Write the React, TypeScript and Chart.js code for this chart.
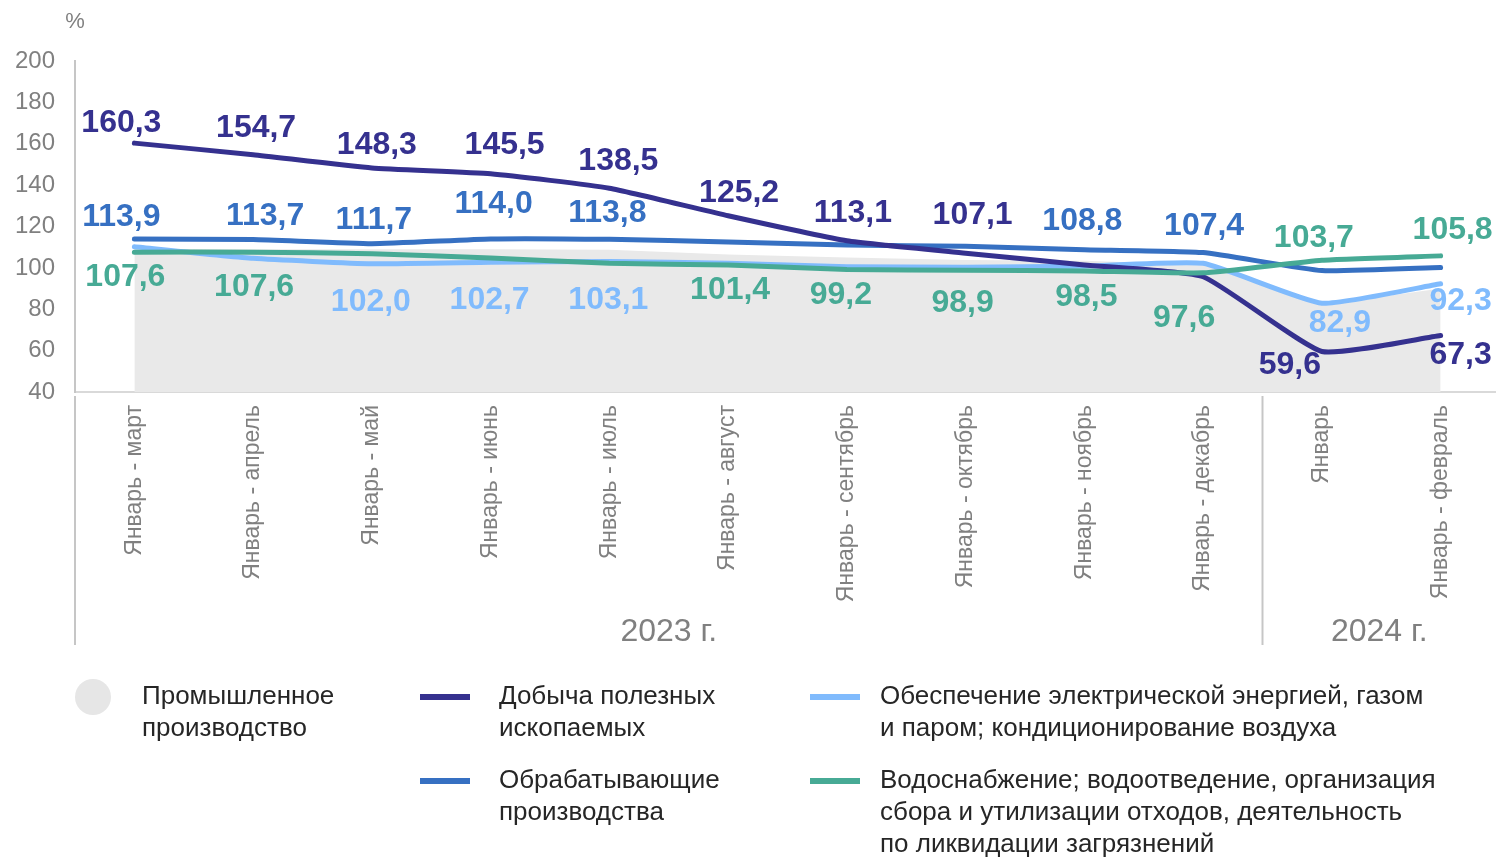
import React, { useEffect, useRef } from "react";
import { Chart, registerables } from "chart.js";

Chart.register(...registerables);

const CATEGORIES = [
  "Январь - март",
  "Январь - апрель",
  "Январь - май",
  "Январь - июнь",
  "Январь - июль",
  "Январь - август",
  "Январь - сентябрь",
  "Январь - октябрь",
  "Январь - ноябрь",
  "Январь - декабрь",
  "Январь",
  "Январь - февраль",
];

const YEAR_GROUPS = [
  { label: "2023 г.", from: 0, to: 9 },
  { label: "2024 г.", from: 10, to: 11 },
];

const INDUSTRY = [109.0, 109.0, 109.0, 109.0, 108.8, 106.5, 105.0, 103.8, 103.5, 101.5, 82.0, 90.0];
const MINING = [160.3, 154.7, 148.3, 145.5, 138.5, 125.2, 113.1, 107.1, 101.4, 95.7, 59.6, 67.3];
const MANUFACTURING = [113.9, 113.7, 111.7, 114.0, 113.8, 112.5, 111.0, 110.4, 108.8, 107.4, 98.7, 100.2];
const ENERGY = [110.2, 104.6, 102.0, 102.7, 103.1, 102.2, 100.6, 100.3, 100.8, 102.2, 82.9, 92.3];
const WATER = [107.6, 107.6, 106.8, 104.8, 102.2, 101.4, 99.2, 98.9, 98.5, 97.6, 103.7, 105.8];

const Y_MIN = 40;
const Y_MAX = 200;
const Y_STEP = 20;

// label placement relative to the point (dx, dy in px); null = no label
type Off = [number, number] | null;
const MINING_LABELS: Off[] = [[-13, -20], [3, -27], [5, -23], [14, -29], [9, -27], [11, -23], [6, -28], [7, -38], null, null, [-32, 14], [20, 20]];
const MANUF_LABELS: Off[] = [[-13, -22], [12, -23], [2, -23], [3, -35], [-2, -26], null, null, null, [-2, -28], [1, -26], null, null];
const ENERGY_LABELS: Off[] = [null, null, [-1, 38], [-1, 38], [-1, 39], null, null, null, null, null, [18, 20], [20, 17]];
const WATER_LABELS: Off[] = [[-9, 25], [1, 35], null, null, null, [2, 25], [-6, 26], [-3, 33], [2, 26], [-19, 45], [-8, -22], [12, -26]];

const C_GRAY = "#e9e9e9";
const C_MINING = "#35318f";
const C_MANUF = "#3670c2";
const C_ENERGY = "#80bbfd";
const C_WATER = "#47aa95";
const C_AXIS_TEXT = "#808080";
const FONT = "'Liberation Sans', Arial, sans-serif";

const fmt = (v: number) => v.toFixed(1).replace(".", ",");

const labelPlugin = {
  id: "valueLabels",
  afterDatasetsDraw(chart: any) {
    const ctx = chart.ctx;
    ctx.save();
    ctx.font = `bold 32px ${FONT}`;
    ctx.textAlign = "center";
    ctx.textBaseline = "middle";
    chart.data.datasets.forEach((ds: any, i: number) => {
      const offs: Off[] | undefined = ds.labelOffsets;
      if (!offs) return;
      const meta = chart.getDatasetMeta(i);
      meta.data.forEach((pt: any, j: number) => {
        const o = offs[j];
        if (!o) return;
        ctx.fillStyle = ds.borderColor;
        ctx.fillText(fmt(ds.data[j]), pt.x + o[0], pt.y + o[1]);
      });
    });
    ctx.restore();
  },
};

const decorPlugin = {
  id: "decor",
  afterDraw(chart: any) {
    const ctx = chart.ctx;
    const xs = chart.scales.x;
    const area = chart.chartArea;
    ctx.save();
    ctx.fillStyle = C_AXIS_TEXT;
    ctx.font = `22px ${FONT}`;
    ctx.textAlign = "center";
    ctx.textBaseline = "middle";
    ctx.fillText("%", area.left, 22);
    ctx.strokeStyle = "#c6c6c6";
    ctx.lineWidth = 2;
    const top = area.bottom + 4;
    const bottom = 645;
    const seps = [area.left];
    YEAR_GROUPS.forEach((g, k) => {
      if (k > 0) seps.push((xs.getPixelForValue(g.from - 1) + xs.getPixelForValue(g.from)) / 2);
    });
    seps.forEach((sx) => {
      ctx.beginPath();
      ctx.moveTo(sx, top);
      ctx.lineTo(sx, bottom);
      ctx.stroke();
    });
    ctx.font = `32px ${FONT}`;
    YEAR_GROUPS.forEach((g, k) => {
      const l = seps[k];
      const r = k + 1 < seps.length ? seps[k + 1] : Math.min(area.right, 1496);
      ctx.fillText(g.label, (l + r) / 2, 632);
    });
    ctx.restore();
  },
};

function LegendItem(props: { left: number; top: number; marker: "circle" | "line"; color: string; lines: string[]; textLeft: number }) {
  const { left, top, marker, color, lines, textLeft } = props;
  return (
    <>
      {marker === "circle" ? (
        <div style={{ position: "absolute", left: left, top: top - 18, width: 36, height: 36, borderRadius: "50%", background: color }} />
      ) : (
        <div style={{ position: "absolute", left: left, top: top - 3, width: 50, height: 6, background: color }} />
      )}
      <div
        style={{
          position: "absolute",
          left: textLeft,
          top: top - 18,
          font: `26px ${FONT}`,
          lineHeight: "32px",
          color: "#262626",
          whiteSpace: "nowrap",
        }}
      >
        {lines.map((t, i) => (
          <div key={i}>{t}</div>
        ))}
      </div>
    </>
  );
}

export default function App() {
  const ref = useRef<HTMLCanvasElement>(null);

  useEffect(() => {
    document.body.style.margin = "0";
    const canvas = ref.current;
    if (!canvas) return;
    const lineBase = { borderWidth: 5, pointRadius: 0, tension: 0.15, borderCapStyle: "round", fill: false };
    const chart = new Chart(canvas, {
      type: "line",
      data: {
        labels: CATEGORIES,
        datasets: [
          {
            label: "Промышленное производство",
            data: INDUSTRY,
            borderWidth: 0,
            borderColor: C_GRAY,
            backgroundColor: C_GRAY,
            fill: "start",
            pointRadius: 0,
            order: 10,
          } as any,
          {
            ...lineBase,
            label: "Обеспечение электрической энергией, газом и паром; кондиционирование воздуха",
            data: ENERGY,
            borderColor: C_ENERGY,
            labelOffsets: ENERGY_LABELS,
            order: 4,
          } as any,
          {
            ...lineBase,
            label: "Обрабатывающие производства",
            data: MANUFACTURING,
            borderColor: C_MANUF,
            labelOffsets: MANUF_LABELS,
            order: 3,
          } as any,
          {
            ...lineBase,
            label: "Добыча полезных ископаемых",
            data: MINING,
            borderColor: C_MINING,
            labelOffsets: MINING_LABELS,
            order: 2,
          } as any,
          {
            ...lineBase,
            label: "Водоснабжение; водоотведение, организация сбора и утилизации отходов, деятельность по ликвидации загрязнений",
            data: WATER,
            borderColor: C_WATER,
            labelOffsets: WATER_LABELS,
            order: 1,
          } as any,
        ],
      },
      options: {
        responsive: false,
        animation: false,
        layout: { padding: { top: 61, left: 0, right: 0, bottom: 0 } },
        plugins: {
          legend: { display: false },
          tooltip: { enabled: false },
        },
        scales: {
          x: {
            type: "category",
            offset: true,
            grid: { display: false, drawTicks: false },
            border: { display: true, color: "#d9d9d9", width: 2 },
            ticks: {
              autoSkip: false,
              maxRotation: 90,
              minRotation: 90,
              padding: 13,
              color: C_AXIS_TEXT,
              font: { family: FONT, size: 23 },
            },
            afterFit: (s: any) => {
              s.height = 465;
            },
          },
          y: {
            min: Y_MIN,
            max: Y_MAX,
            grid: { display: false, drawTicks: false },
            border: { display: true, color: "#c6c6c6", width: 2 },
            ticks: {
              stepSize: Y_STEP,
              padding: 20,
              color: C_AXIS_TEXT,
              font: { family: FONT, size: 24 },
            },
            afterFit: (s: any) => {
              s.width = 75;
            },
          },
        },
      } as any,
      plugins: [labelPlugin, decorPlugin],
    });
    return () => chart.destroy();
  }, []);

  return (
    <div style={{ position: "relative", width: 1496, height: 857, overflow: "hidden", background: "#fff" }}>
      <canvas ref={ref} width={1500} height={857} style={{ position: "absolute", left: 0, top: 0 }} />
      <LegendItem left={75} top={697} marker="circle" color="#e6e6e6" textLeft={142} lines={["Промышленное", "производство"]} />
      <LegendItem left={420} top={697} marker="line" color={C_MINING} textLeft={499} lines={["Добыча полезных", "ископаемых"]} />
      <LegendItem left={810} top={697} marker="line" color={C_ENERGY} textLeft={880} lines={["Обеспечение электрической энергией, газом", "и паром; кондиционирование воздуха"]} />
      <LegendItem left={420} top={781} marker="line" color={C_MANUF} textLeft={499} lines={["Обрабатывающие", "производства"]} />
      <LegendItem
        left={810}
        top={781}
        marker="line"
        color={C_WATER}
        textLeft={880}
        lines={["Водоснабжение; водоотведение, организация", "сбора и утилизации отходов, деятельность", "по ликвидации загрязнений"]}
      />
    </div>
  );
}
